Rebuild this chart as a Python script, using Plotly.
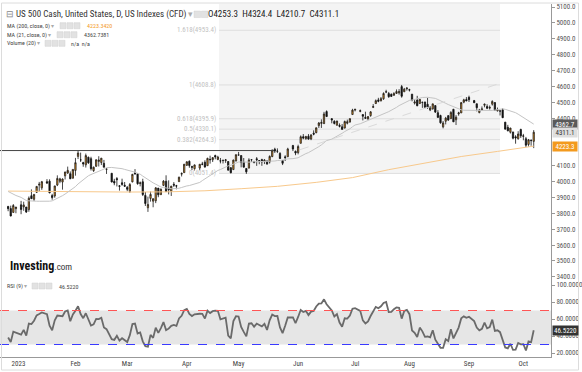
import numpy as np
import pandas as pd
import plotly.graph_objects as go

# ---------------- data ----------------
holidays = ["2023-01-02", "2023-01-16", "2023-02-20", "2023-04-07",
            "2023-05-29", "2023-06-19", "2023-07-04", "2023-09-04"]
dates = [d for d in pd.bdate_range("2022-12-27", "2023-10-06").strftime("%Y-%m-%d")
         if d not in holidays]

ohlc_rows = [
    # Dec 2022
    (3843.3, 3846.7, 3813.2, 3829.3), (3829.6, 3848.3, 3780.8, 3783.2), (3805.5, 3858.2, 3805.5, 3849.3),
    (3829.1, 3839.9, 3800.3, 3839.5),
    # Jan
    (3853.3, 3878.5, 3794.3, 3824.1), (3840.4, 3873.2, 3815.8, 3853.0), (3839.7, 3839.7, 3802.4, 3808.1),
    (3823.4, 3906.2, 3809.6, 3895.1), (3910.8, 3950.6, 3890.4, 3892.1), (3888.6, 3919.8, 3877.3, 3919.3),
    (3932.4, 3970.1, 3928.5, 3969.6), (3977.6, 3997.8, 3937.6, 3983.2), (3960.6, 4004.0, 3947.7, 3999.1),
    (3999.3, 4015.4, 3984.6, 3991.0), (4002.3, 4014.2, 3926.6, 3928.9), (3911.8, 3922.9, 3885.5, 3898.9),
    (3909.0, 3973.0, 3897.9, 3972.6), (3978.1, 4039.3, 3971.6, 4019.8), (4001.7, 4023.9, 3989.8, 4017.0),
    (3996.7, 4019.6, 3949.1, 4016.2), (4036.1, 4061.6, 4013.3, 4060.4), (4053.7, 4094.2, 4048.7, 4070.6),
    (4049.3, 4063.9, 4015.6, 4017.8), (4020.9, 4077.2, 4020.4, 4076.6),
    # Feb
    (4070.1, 4149.0, 4037.2, 4119.2), (4158.7, 4195.4, 4141.9, 4179.8), (4136.7, 4182.4, 4123.4, 4136.5),
    (4119.6, 4124.6, 4093.4, 4111.1), (4105.4, 4176.5, 4088.4, 4164.0), (4153.5, 4156.9, 4111.7, 4117.9),
    (4144.3, 4156.2, 4069.7, 4081.5), (4068.9, 4094.4, 4060.8, 4090.5), (4096.6, 4138.9, 4092.7, 4137.3),
    (4126.7, 4159.8, 4095.0, 4136.1), (4119.5, 4148.1, 4104.0, 4147.6), (4114.8, 4136.5, 4089.5, 4090.4),
    (4077.4, 4081.5, 4048.0, 4079.1), (4052.4, 4052.4, 3995.2, 3997.3), (4001.8, 4017.4, 3976.9, 3991.1),
    (4018.6, 4028.3, 3969.2, 4012.3), (3973.2, 3978.3, 3943.1, 3970.0), (3992.4, 4018.1, 3973.6, 3982.2),
    (3977.2, 3997.5, 3969.0, 3970.2),
    # Mar
    (3963.3, 3971.7, 3939.1, 3951.4), (3938.7, 3990.8, 3928.2, 3981.4), (3998.0, 4048.3, 3995.2, 4045.6),
    (4055.2, 4078.5, 4044.6, 4048.4), (4048.3, 4050.0, 3980.3, 3986.4), (3987.6, 4000.4, 3969.8, 3992.0),
    (3998.7, 4017.8, 3908.7, 3918.3), (3912.8, 3934.1, 3846.3, 3861.6), (3835.1, 3905.1, 3808.9, 3855.8),
    (3894.0, 3937.3, 3873.6, 3919.3), (3876.7, 3894.3, 3838.2, 3891.9), (3878.9, 3964.5, 3864.1, 3960.3),
    (3958.7, 3958.9, 3901.3, 3916.6), (3917.5, 3956.6, 3916.9, 3951.6), (3975.9, 4009.1, 3971.2, 4002.9),
    (4002.0, 4039.5, 3936.2, 3937.0), (3959.2, 4007.7, 3919.1, 3948.7), (3939.2, 3972.7, 3909.2, 3971.0),
    (3982.9, 3996.6, 3966.3, 3977.5), (3974.1, 3979.2, 3951.5, 3971.3), (3999.5, 4030.6, 3999.5, 4027.8),
    (4046.7, 4057.9, 4032.1, 4050.8), (4056.2, 4110.8, 4056.2, 4109.3),
    # Apr
    (4102.2, 4127.7, 4098.8, 4124.5), (4128.0, 4133.1, 4086.9, 4100.6), (4094.5, 4099.7, 4072.6, 4090.4),
    (4081.2, 4107.3, 4069.8, 4105.0), (4085.2, 4109.5, 4072.6, 4109.1), (4110.3, 4124.3, 4102.6, 4108.9),
    (4121.7, 4134.4, 4086.9, 4092.0), (4100.0, 4150.3, 4099.4, 4146.2), (4140.1, 4163.2, 4113.2, 4137.6),
    (4137.2, 4151.7, 4123.2, 4151.3), (4164.3, 4169.5, 4140.4, 4154.9), (4139.3, 4162.6, 4134.5, 4154.5),
    (4130.5, 4148.6, 4114.6, 4129.8), (4132.1, 4138.0, 4113.9, 4133.5), (4132.1, 4142.4, 4117.8, 4137.0),
    (4126.4, 4126.4, 4071.4, 4071.6), (4087.8, 4089.7, 4051.4, 4056.0), (4075.3, 4138.2, 4075.3, 4135.4),
    (4129.6, 4170.1, 4127.2, 4169.5),
    # May
    (4166.8, 4186.9, 4164.1, 4167.9), (4164.1, 4164.1, 4089.7, 4119.6), (4122.3, 4148.3, 4088.9, 4090.8),
    (4082.6, 4082.6, 4048.3, 4061.2), (4084.7, 4147.0, 4084.7, 4136.3), (4137.0, 4142.3, 4123.8, 4138.1),
    (4124.3, 4130.4, 4116.7, 4119.2), (4143.7, 4154.3, 4098.9, 4137.6), (4132.2, 4132.8, 4109.3, 4130.6),
    (4138.5, 4143.7, 4099.1, 4124.1), (4126.7, 4141.3, 4110.3, 4136.3), (4128.0, 4135.5, 4109.9, 4109.9),
    (4122.9, 4164.7, 4113.6, 4158.8), (4157.7, 4202.2, 4153.5, 4198.1), (4204.2, 4212.9, 4180.2, 4192.0),
    (4190.8, 4209.2, 4179.7, 4192.6), (4176.8, 4185.7, 4142.5, 4145.6), (4133.0, 4133.0, 4104.0, 4115.2),
    (4155.7, 4165.7, 4129.7, 4151.3), (4156.2, 4212.9, 4156.2, 4205.5), (4226.7, 4231.1, 4192.2, 4205.5),
    (4190.7, 4195.4, 4166.2, 4179.8),
    # Jun
    (4183.0, 4232.4, 4171.6, 4221.0), (4241.0, 4290.7, 4241.0, 4282.4), (4283.0, 4299.3, 4266.8, 4273.8),
    (4271.3, 4288.3, 4263.1, 4283.9), (4285.5, 4299.2, 4264.0, 4267.5), (4268.7, 4298.0, 4261.1, 4293.9),
    (4304.9, 4322.6, 4291.7, 4298.9), (4308.3, 4340.1, 4304.4, 4338.9), (4352.6, 4375.4, 4337.9, 4369.0),
    (4366.3, 4391.8, 4337.9, 4372.6), (4365.3, 4439.2, 4362.6, 4425.8), (4441.0, 4448.5, 4407.4, 4409.6),
    (4396.1, 4400.2, 4367.2, 4388.7), (4380.0, 4386.2, 4360.1, 4365.7), (4355.4, 4382.3, 4351.8, 4381.9),
    (4354.2, 4366.6, 4341.3, 4348.3), (4344.8, 4362.1, 4328.1, 4328.8), (4337.4, 4384.4, 4335.0, 4378.4),
    (4367.5, 4390.4, 4360.2, 4376.9), (4374.9, 4398.4, 4372.0, 4396.4), (4422.4, 4458.5, 4422.4, 4450.4),
    # Jul
    (4450.5, 4456.5, 4442.3, 4455.6), (4442.0, 4454.1, 4436.6, 4446.8), (4422.6, 4422.6, 4385.1, 4411.6),
    (4404.5, 4440.4, 4397.4, 4399.0), (4394.2, 4412.6, 4389.9, 4409.5), (4415.6, 4443.6, 4408.5, 4439.3),
    (4467.7, 4488.3, 4463.2, 4472.2), (4491.5, 4517.4, 4489.4, 4510.0), (4514.6, 4527.8, 4499.6, 4505.4),
    (4508.9, 4532.9, 4504.9, 4522.8), (4521.8, 4562.3, 4514.6, 4555.0), (4563.9, 4578.4, 4557.5, 4565.7),
    (4554.4, 4564.7, 4527.6, 4534.9), (4550.2, 4555.0, 4535.8, 4536.3), (4543.4, 4563.4, 4541.3, 4554.6),
    (4555.2, 4580.6, 4552.4, 4567.5), (4559.0, 4582.5, 4547.6, 4566.8), (4598.3, 4608.8, 4528.6, 4537.4),
    (4565.8, 4590.2, 4564.0, 4582.2), (4584.8, 4594.2, 4573.1, 4589.0),
    # Aug
    (4578.8, 4584.6, 4567.5, 4576.7), (4550.9, 4550.9, 4505.8, 4513.4), (4494.3, 4519.5, 4485.5, 4501.9),
    (4514.0, 4540.3, 4474.6, 4478.0), (4491.6, 4519.8, 4491.2, 4518.4), (4498.0, 4503.3, 4464.4, 4499.4),
    (4501.6, 4502.4, 4461.3, 4467.7), (4487.2, 4527.4, 4457.9, 4468.8), (4450.7, 4476.2, 4444.0, 4464.1),
    (4458.1, 4490.3, 4453.4, 4489.7), (4478.9, 4478.9, 4432.2, 4437.9), (4433.8, 4450.0, 4403.6, 4404.3),
    (4416.3, 4421.2, 4364.8, 4370.4), (4344.9, 4381.8, 4335.3, 4369.7), (4380.3, 4407.6, 4360.3, 4399.8),
    (4415.3, 4418.6, 4382.8, 4387.6), (4396.4, 4443.2, 4396.4, 4436.0), (4455.2, 4458.3, 4375.6, 4376.3),
    (4389.4, 4418.5, 4356.3, 4405.7), (4426.0, 4439.6, 4415.0, 4433.3), (4432.8, 4500.1, 4431.7, 4497.6),
    (4500.3, 4521.7, 4493.6, 4514.9), (4517.0, 4532.3, 4507.4, 4507.7),
    # Sep
    (4530.6, 4541.3, 4501.4, 4515.8), (4510.1, 4514.3, 4496.0, 4496.8), (4490.4, 4490.4, 4442.4, 4465.5),
    (4434.6, 4457.8, 4430.5, 4451.1), (4451.3, 4473.5, 4448.4, 4457.5), (4481.0, 4490.8, 4467.9, 4487.5),
    (4473.3, 4487.1, 4456.8, 4461.9), (4462.7, 4479.4, 4453.5, 4467.4), (4487.8, 4512.0, 4478.7, 4505.1),
    (4498.0, 4498.0, 4447.2, 4450.3), (4445.1, 4466.4, 4442.1, 4453.5), (4445.4, 4449.9, 4416.6, 4444.0),
    (4452.8, 4461.0, 4401.4, 4402.2), (4374.4, 4375.7, 4329.2, 4330.0), (4341.7, 4357.4, 4316.5, 4320.1),
    (4310.6, 4338.5, 4302.7, 4337.4), (4312.9, 4313.0, 4266.0, 4273.5), (4282.6, 4292.1, 4238.6, 4274.5),
    (4269.7, 4317.3, 4264.4, 4299.7), (4328.2, 4333.2, 4274.9, 4288.1),
    # Oct
    (4284.5, 4300.6, 4260.2, 4288.4), (4269.8, 4281.2, 4216.5, 4229.5), (4233.8, 4268.5, 4220.5, 4263.8),
    (4259.3, 4267.1, 4225.9, 4258.2), (4253.3, 4324.4, 4210.7, 4311.1),
]
open_ = [r[0] for r in ohlc_rows]
high = [r[1] for r in ohlc_rows]
low = [r[2] for r in ohlc_rows]
close = [r[3] for r in ohlc_rows]

# closes before the first visible candle (indicator warm-up)
warmup_close = [3957.3, 3991.7, 3958.8, 3946.6, 3965.3, 3949.9, 4003.6, 4027.3, 4026.1,
                3963.9, 3957.6, 4080.1, 4076.6, 4071.7, 3998.8, 3941.3, 3933.9, 3963.5,
                3934.4, 3990.6, 4019.7, 3995.3, 3895.8, 3852.4, 3817.7, 3821.6, 3878.4,
                3822.4, 3844.8]

ma200_dates = ["2022-12-27", "2023-01-17", "2023-02-06", "2023-03-01", "2023-03-22", "2023-04-12",
               "2023-05-02", "2023-05-22", "2023-06-12", "2023-06-30", "2023-07-20", "2023-08-09",
               "2023-08-29", "2023-09-18", "2023-10-06"]
ma200_values = [3940, 3937, 3935, 3934, 3935, 3942, 3955, 3970, 3995, 4025, 4075, 4118, 4158, 4190, 4223.34]

fib_ratios = ["0", "0.382", "0.5", "0.618", "1", "1.618"]
fib_values = [4051.4, 4264.3, 4330.1, 4395.9, 4608.8, 4953.4]

month_dates = ["2023-01-02", "2023-02-01", "2023-03-01", "2023-04-03", "2023-05-01",
               "2023-06-01", "2023-07-03", "2023-08-01", "2023-09-01", "2023-10-02"]
month_labels = ["2023", "Feb", "Mar", "Apr", "May", "Jun", "Jul", "Aug", "Sep", "Oct"]

price_ticks = [3400, 3500, 3600, 3700, 3800, 3900, 4000, 4100, 4400, 4500, 4600, 4700,
               4800, 4900, 5000, 5100]
rsi_ticks = [20, 40, 60, 80, 100]

ma200_last = "4223.3420"
ma21_last = "4362.7381"
rsi_last = "46.5220"

# ---------------- indicators ----------------
all_close = np.array(warmup_close + close, dtype=float)
ma21 = pd.Series(all_close).rolling(21).mean().to_numpy()[len(warmup_close):]

n = 9
d = np.diff(all_close)
gain = np.where(d > 0, d, 0.0)
loss = np.where(d < 0, -d, 0.0)
ag, al = gain[:n].mean(), loss[:n].mean()
rsi_all = [np.nan] * (n + 1)
for i in range(n, len(d)):
    ag = (ag * (n - 1) + gain[i]) / n
    al = (al * (n - 1) + loss[i]) / n
    rsi_all.append(100 - 100 / (1 + ag / al) if al > 0 else 100)
rsi = np.array(rsi_all)[len(warmup_close):]


# x positions: business-day index from 2 Jan 2023
def bidx(ds):
    return np.busday_count("2023-01-02", np.array(ds, dtype="datetime64[D]")).astype(float)


xi = bidx(dates)
x_ma200 = bidx(ma200_dates)
x_month = bidx(month_dates)

# ---------------- geometry ----------------
W, H = 582, 372
FONT = "Liberation Sans Narrow, Roboto Condensed, Arial Narrow, Roboto, sans-serif"
ORANGE = "#f39a1e"
X0_PX, PPD = 18.5, 2.589
AX_PX = 551


def px(x):
    return x / W


def py(y):
    return 1 - y / H


def idx_at(xp):
    return (xp - X0_PX) / PPD


P_TOP, P_BOT = 4, 282
R_BOT = 357
price_range = [5100 - (P_BOT - 7) / 0.1587, 5100 + (7 - P_TOP) / 0.1587]
rsi_range = [20 - (R_BOT - 353) / 0.85, 100 + (285 - P_BOT) / 0.85]

fig = go.Figure()

fig.add_trace(go.Scatter(x=x_ma200, y=ma200_values, mode="lines",
                         line=dict(color="#f8c98c", width=1), hoverinfo="skip"))
fig.add_trace(go.Scatter(x=xi, y=ma21, mode="lines",
                         line=dict(color="#c4c4c4", width=1), hoverinfo="skip"))
fig.add_trace(go.Candlestick(
    x=xi, open=open_, high=high, low=low, close=close,
    increasing=dict(fillcolor=ORANGE, line=dict(color="#1a1a1a", width=0.8)),
    decreasing=dict(fillcolor="#111111", line=dict(color="#111111", width=0.8)),
    whiskerwidth=0, hoverinfo="skip"))
fig.add_trace(go.Scatter(x=xi, y=rsi, mode="lines", xaxis="x", yaxis="y2",
                         line=dict(color="#6a6a6a", width=1.8), hoverinfo="skip"))

shapes = []
annotations = []

# fibonacci zone
fx0, fx1 = idx_at(219), idx_at(500)
shapes.append(dict(type="rect", xref="x", yref="y", x0=fx0, x1=fx1, y0=fib_values[0],
                   y1=price_range[1], fillcolor="#f4f4f4", line=dict(width=0), layer="below"))
for r, v in zip(fib_ratios, fib_values):
    shapes.append(dict(type="line", xref="x", yref="y", x0=fx0, x1=fx1, y0=v, y1=v,
                       line=dict(color="#dedede", width=1), layer="below"))
    annotations.append(dict(xref="x", yref="y", x=fx0, y=v, text=f"{r}({v:.1f})",
                            showarrow=False, xanchor="right", yanchor="middle", xshift=-1,
                            font=dict(size=7, color="#c2c2c2", family=FONT)))

# horizontal resistance line and dashed trend line
shapes.append(dict(type="line", xref="x", yref="y", x0=idx_at(0), x1=idx_at(274),
                   y0=4195.4, y1=4195.4, line=dict(color="#444444", width=1)))
shapes.append(dict(type="line", xref="x", yref="y", x0=idx_at(300), x1=idx_at(498),
                   y0=4201, y1=4615, line=dict(color="#dadada", width=1, dash="dash")))

# RSI band and levels
shapes.append(dict(type="rect", xref="paper", yref="y2", x0=0, x1=px(AX_PX), y0=30, y1=70,
                   fillcolor="#e6e6e6", line=dict(width=0), layer="below"))
shapes.append(dict(type="line", xref="paper", yref="y2", x0=0, x1=px(AX_PX), y0=70, y1=70,
                   line=dict(color="#ff5555", width=1, dash="dash")))
shapes.append(dict(type="line", xref="paper", yref="y2", x0=0, x1=px(AX_PX), y0=30, y1=30,
                   line=dict(color="#3a3aff", width=1, dash="dash")))

# frame
shapes.append(dict(type="rect", xref="paper", yref="paper", x0=px(1.5), x1=px(578.5),
                   y0=py(370), y1=py(3), line=dict(color="#dcdcdc", width=1)))


def txt(x, y, s, size=7, color="#333333", anchor="left"):
    annotations.append(dict(xref="paper", yref="paper", x=px(x), y=py(y), text=s,
                            showarrow=False, xanchor=anchor, yanchor="middle",
                            font=dict(size=size, color=color, family=FONT)))


def icons(x, y, k, w=6.5, h=6.5):
    for i in range(k):
        shapes.append(dict(type="rect", xref="paper", yref="paper",
                           x0=px(x + i * (w + 1)), x1=px(x + i * (w + 1) + w),
                           y0=py(y + h / 2), y1=py(y - h / 2),
                           fillcolor="#e2e2e2", line=dict(color="#d0d0d0", width=0.5)))


caret = "<span style='color:#aaaaaa'> ▾</span>"
txt(4, 14.3, "<span style='color:#888'>⊟</span> US 500 Cash, United States, D, US Indexes (CFD)" + caret,
    size=9, color="#333333")
icons(194, 14.3, 2)
txt(206, 14.3, f"O{open_[-1]:.1f}  H{high[-1]:.1f}  L{low[-1]:.1f}  C{close[-1]:.1f}", size=9,
    color="#222222")

txt(5, 25.7, "MA (200, close, 0)" + caret, size=6, color="#444444")
icons(60, 25.7, 3, 6, 6)
txt(85, 25.7, ma200_last, size=6, color=ORANGE)
txt(5, 34.7, "MA (21, close, 0)" + caret, size=6, color="#444444")
icons(57, 34.7, 3, 6, 6)
txt(82, 34.7, ma21_last, size=6, color="#444444")
txt(5, 43.3, "Volume (20)" + caret, size=6, color="#444444")
icons(45, 43.3, 3, 6, 6)
txt(69, 43.3, "n/a  n/a", size=6, color="#444444")

txt(8, 266, "<b>Investing</b><span style='font-size:9px;color:#333'>.com</span>", size=12,
    color="#111111")
txt(5, 286, "RSI (9)" + caret, size=6, color="#444444")
icons(32, 286, 3, 6, 6)
txt(57, 286, rsi_last, size=6, color="#444444")

# right-axis value tags
tags = [(float(ma21_last), f"{float(ma21_last):.1f}", "#5a5a5a", "#ffffff"),
        (close[-1], f"{close[-1]:.1f}", "#dedede", "#333333"),
        (ma200_values[-1], f"{ma200_values[-1]:.1f}", ORANGE, "#ffffff")]
for v, s, bg, fg in tags:
    annotations.append(dict(xref="paper", yref="y", x=px(AX_PX + 1), y=v, text=s, showarrow=False,
                            xanchor="left", yanchor="middle", bgcolor=bg, width=24, height=9,
                            borderpad=0, font=dict(size=7, color=fg, family=FONT)))
annotations.append(dict(xref="paper", yref="y2", x=px(AX_PX + 1), y=float(rsi_last), text=rsi_last,
                        showarrow=False, xanchor="left", yanchor="middle", bgcolor="#333333",
                        width=25, height=9, borderpad=0,
                        font=dict(size=7, color="#ffffff", family=FONT)))

axis_font = dict(size=7, color="#555555", family=FONT)
fig.update_layout(
    width=W, height=H, margin=dict(l=0, r=0, t=0, b=0),
    paper_bgcolor="white", plot_bgcolor="white", showlegend=False,
    font=dict(family=FONT),
    xaxis=dict(domain=[0, px(AX_PX)], range=[idx_at(0), idx_at(AX_PX)], anchor="y2",
               tickvals=x_month, ticktext=month_labels, tickfont=dict(size=7, color="#444", family=FONT),
               showline=True, linecolor="#999999", linewidth=1, showgrid=False, zeroline=False,
               ticks="", rangeslider=dict(visible=False), automargin=False),
    yaxis=dict(domain=[py(P_BOT), py(P_TOP)], range=price_range, side="right", anchor="x",
               tickvals=price_ticks, tickformat=".1f", ticks="outside", ticklen=3,
               tickcolor="#999999", showline=True, linecolor="#999999", linewidth=1,
               showgrid=False, zeroline=False, tickfont=axis_font, automargin=False),
    yaxis2=dict(domain=[py(R_BOT), py(P_BOT)], range=rsi_range, side="right", anchor="x",
                tickvals=rsi_ticks, tickformat=".4f", ticks="outside", ticklen=3,
                tickcolor="#999999", showline=True, linecolor="#999999", linewidth=1,
                showgrid=False, zeroline=False, tickfont=axis_font, automargin=False),
    shapes=shapes, annotations=annotations,
)

fig.write_html("out.html", config={"displayModeBar": False},
               post_script="document.body.style.margin='0';document.body.style.overflow='hidden';")
